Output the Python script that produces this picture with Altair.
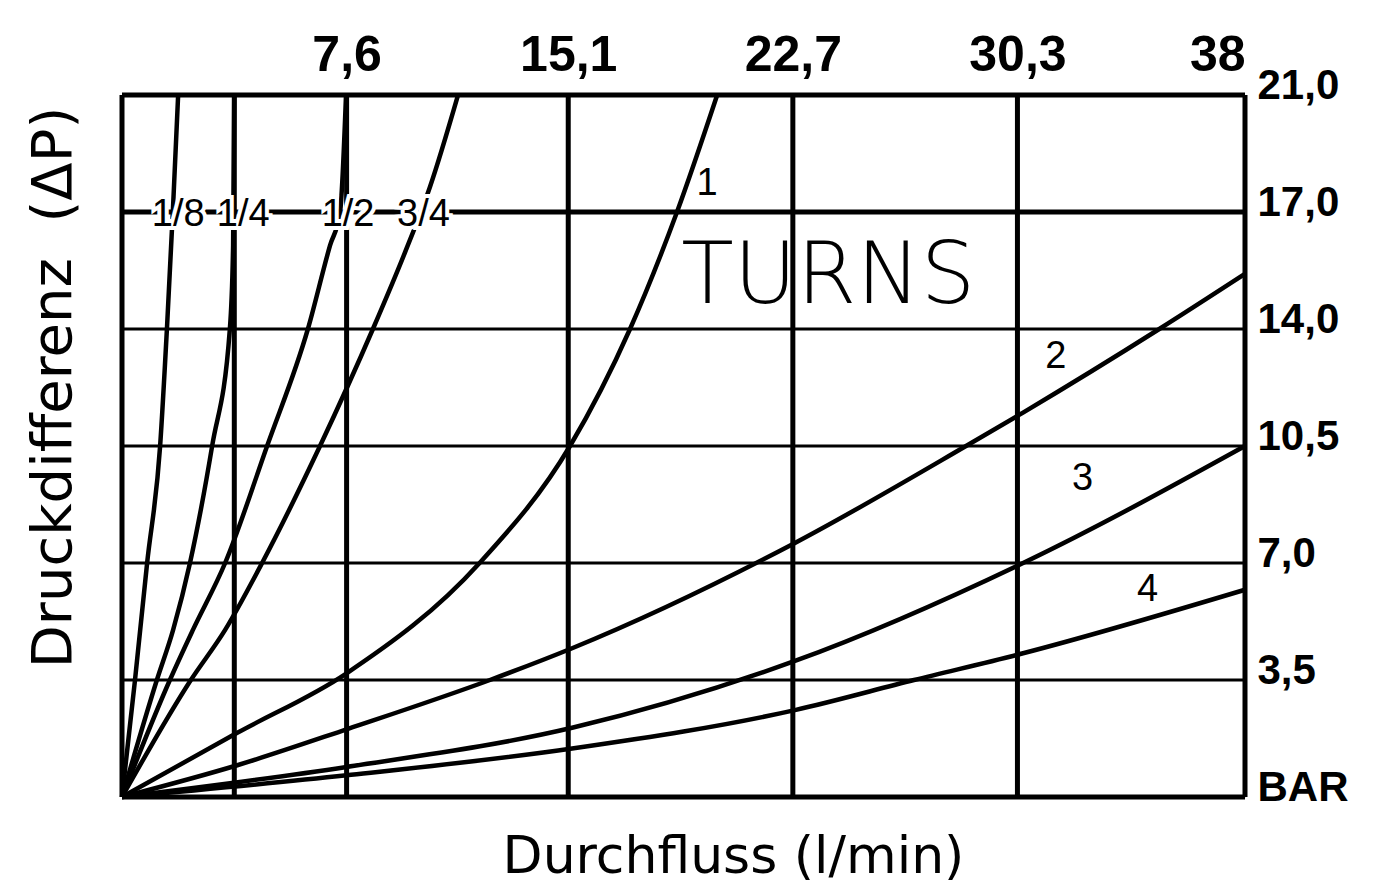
import altair as alt
import pandas as pd

# Axis ticks / labels
flow_ticks = [0, 3.8, 7.6, 15.1, 22.7, 30.3, 38]
flow_tick_labels = ["", "", "7,6", "15,1", "22,7", "30,3", "38"]
dp_ticks = [0, 3.5, 7.0, 10.5, 14.0, 17.5, 21.0]
dp_tick_labels = ["BAR", "3,5", "7,0", "10,5", "14,0", "17,0", "21,0"]
heavy_dp_lines = [0, 17.5, 21.0]

# Curves (flow l/min, pressure bar)
turns = ["1/8", "1/4", "1/2", "3/4", "1", "2", "3", "4"]
flow_1_8 = [0, 0.44, 0.85, 1.29, 1.52, 1.72, 1.90]
dp_1_8 = [0, 3.5, 7.0, 10.5, 14.0, 17.5, 21.0]
flow_1_4 = [0, 1.18, 1.73, 2.30, 3.05, 3.65, 3.76, 3.80]
dp_1_4 = [0, 3.5, 5.0, 7.0, 10.5, 14.0, 16.5, 21.0]
flow_1_2 = [0, 1.62, 2.40, 3.49, 4.91, 6.29, 7.04, 7.38, 7.58]
dp_1_2 = [0, 3.5, 5.0, 7.0, 10.5, 14.0, 16.5, 17.5, 21.0]
flow_3_4 = [0, 2.33, 3.49, 4.74, 6.70, 8.49, 9.58, 10.42, 11.37]
dp_3_4 = [0, 3.5, 5.0, 7.0, 10.5, 14.0, 16.3, 18.25, 21.0]
flow_1 = [0, 3.9, 7.6, 12.1, 15.16, 17.19, 18.78, 20.14]
dp_1 = [0, 1.92, 3.7, 7.0, 10.5, 14.0, 17.5, 21.0]
flow_2 = [0, 3.9, 7.65, 12.45, 15.23, 22.77, 28.56, 30.49, 35.1, 38]
dp_2 = [0, 0.95, 2.04, 3.5, 4.45, 7.6, 10.5, 11.5, 14.0, 15.65]
flow_3 = [0, 7.6, 15.23, 22.77, 30.49, 38]
dp_3 = [0, 0.9, 2.07, 4.07, 7.0, 10.5]
flow_4 = [0, 7.6, 15.23, 22.77, 26.8, 30.49, 38]
dp_4 = [0, 0.65, 1.45, 2.6, 3.5, 4.3, 6.2]

# Curve labels and note
label_text = ["1/8", "1/4", "1/2", "3/4", "1", "2", "3", "4"]
label_flow = [1.9, 4.1, 7.65, 10.2, 19.8, 31.6, 32.5, 34.7]
label_dp = [17.4, 17.4, 17.4, 17.4, 18.35, 13.15, 9.5, 6.2]
note_text = ["TURNS"]
note_flow = [23.9]
note_dp = [15.55]

series = [
    (flow_1_8, dp_1_8), (flow_1_4, dp_1_4), (flow_1_2, dp_1_2), (flow_3_4, dp_3_4),
    (flow_1, dp_1), (flow_2, dp_2), (flow_3, dp_3), (flow_4, dp_4),
]
rows = []
for name, (fx, fy) in zip(turns, series):
    for i, (a, b) in enumerate(zip(fx, fy)):
        rows.append({"turns": name, "i": i, "flow": a, "dp": b})
curves_df = pd.DataFrame(rows)


def label_expr(values, texts):
    expr = "''"
    for v, t in reversed(list(zip(values, texts))):
        expr = f"datum.value == {v} ? '{t}' : ({expr})"
    return expr


xs = alt.Scale(domain=[0, 38], nice=False, zero=False)
ys = alt.Scale(domain=[0, 21], nice=False, zero=False)

top_axis = alt.Axis(orient="top", values=flow_ticks, labelExpr=label_expr(flow_ticks, flow_tick_labels),
                    title=None, labelFont="Liberation Sans", labelFontSize=50, labelFontWeight="bold",
                    labelPadding=15, labelColor="black", ticks=False, domain=False, grid=False,
                    labelFlush=True)
right_axis = alt.Axis(orient="right", values=dp_ticks, labelExpr=label_expr(dp_ticks, dp_tick_labels),
                      title=None, labelFont="Liberation Sans", labelFontSize=42, labelFontWeight="bold",
                      labelPadding=12, labelOffset=-10, labelBaseline="middle", labelAlign="left",
                      labelColor="black", ticks=False, domain=False, grid=False)
bottom_axis = alt.Axis(orient="bottom", labels=False, ticks=False, domain=False, grid=False,
                       title="Durchfluss (l/min)", titleFont="DejaVu Sans", titleFontSize=52,
                       titleFontWeight="normal", titlePadding=34, titleX=611, titleColor="black")
left_axis = alt.Axis(orient="left", labels=False, ticks=False, domain=False, grid=False,
                     title="Druckdifferenz \u00a0(\u0394P)", titleFont="DejaVu Sans", titleFontSize=56,
                     titleFontWeight="normal", titlePadding=40, titleY=292, titleColor="black")

vgrid = alt.Chart(pd.DataFrame({"flow": flow_ticks})).mark_rule(color="black", strokeWidth=5).encode(
    x=alt.X("flow:Q", scale=xs, axis=top_axis)
)
heavy_test = " || ".join(f"datum.dp == {v}" for v in heavy_dp_lines)
hgrid = alt.Chart(pd.DataFrame({"dp": dp_ticks})).mark_rule(color="black").encode(
    y=alt.Y("dp:Q", scale=ys, axis=right_axis),
    strokeWidth=alt.condition(heavy_test, alt.value(5), alt.value(3)),
)
lines = alt.Chart(curves_df).mark_line(color="black", strokeWidth=4.5, interpolate="monotone").encode(
    x=alt.X("flow:Q", scale=xs, axis=bottom_axis),
    y=alt.Y("dp:Q", scale=ys, axis=left_axis),
    detail="turns:N",
    order="i:Q",
)
labels_df = pd.DataFrame({"text": label_text, "flow": label_flow, "dp": label_dp})
halo = alt.Chart(labels_df).mark_text(font="Liberation Sans", fontSize=38, color="white", stroke="white",
                                       strokeWidth=8, align="center", baseline="middle").encode(
    x=alt.X("flow:Q", scale=xs, axis=None), y=alt.Y("dp:Q", scale=ys, axis=None), text="text:N"
)
labels = alt.Chart(labels_df).mark_text(font="Liberation Sans", fontSize=38, color="black",
                                         align="center", baseline="middle").encode(
    x=alt.X("flow:Q", scale=xs, axis=None), y=alt.Y("dp:Q", scale=ys, axis=None), text="text:N"
)
note = alt.Chart(pd.DataFrame({"text": note_text, "flow": note_flow, "dp": note_dp})).mark_text(
    font="DejaVu Sans", fontSize=86, fontWeight=200, color="black", align="center", baseline="middle"
).encode(x=alt.X("flow:Q", scale=xs, axis=None), y=alt.Y("dp:Q", scale=ys, axis=None), text="text:N")

chart = alt.layer(vgrid, hgrid, lines, halo, labels, note).resolve_axis(
    x="independent", y="independent"
).properties(
    width=1123, height=702,
    autosize=alt.AutoSizeParams(type="none"),
    padding={"left": 114, "top": 87, "right": 142, "bottom": 88},
).configure_view(stroke=None).configure(background="white")

chart.save("out.html", embed_options={"renderer": "svg", "actions": False})
